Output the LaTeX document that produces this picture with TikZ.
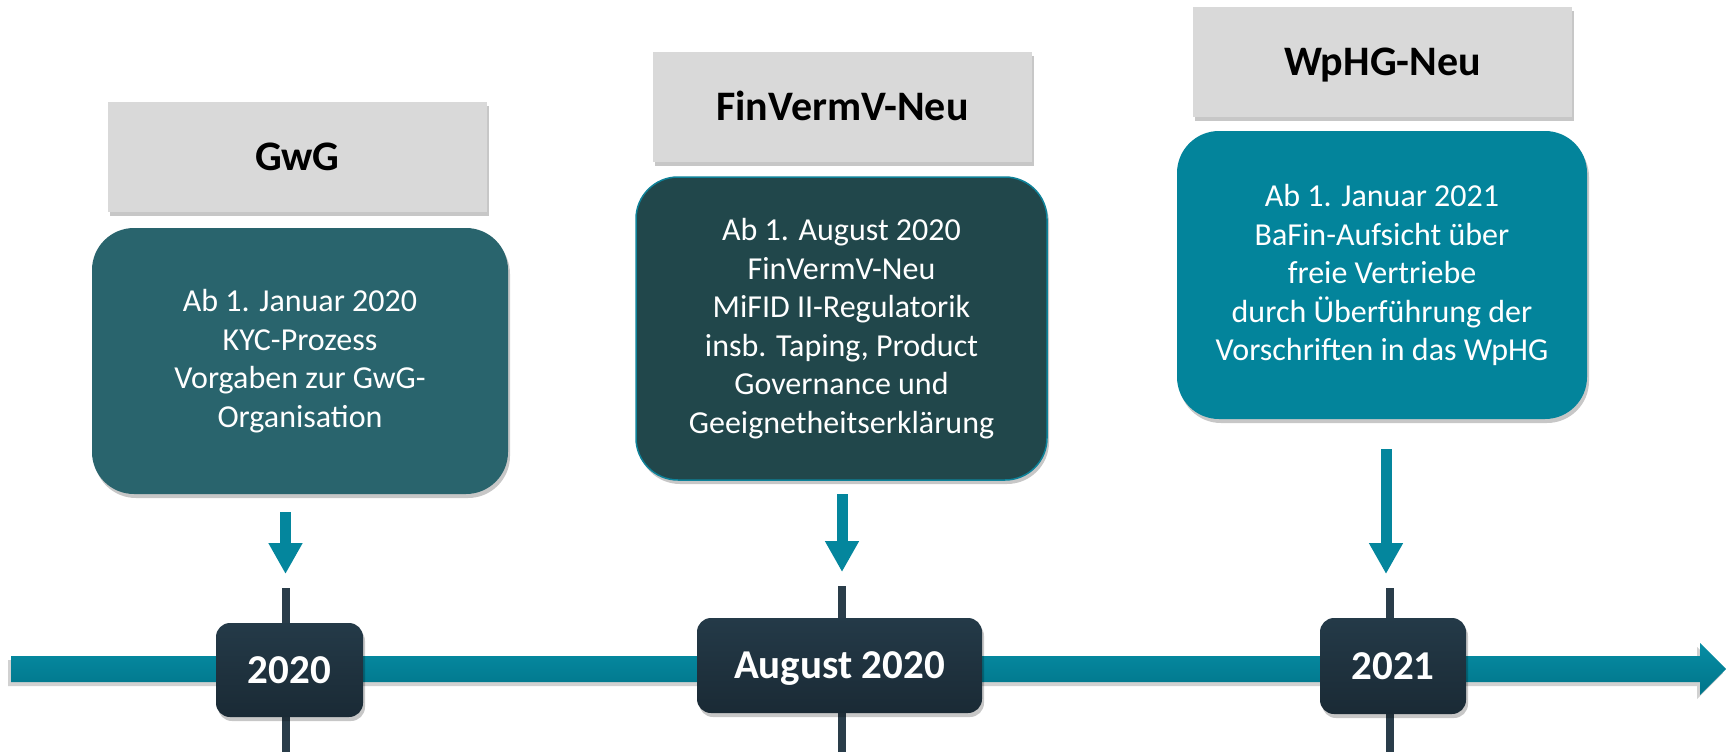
\documentclass[tikz,border=0pt]{standalone}
\usepackage{fontspec}
\setmainfont{Carlito}
\usetikzlibrary{arrows.meta,shadows}
\definecolor{headgrey}{HTML}{D9D9D9}
\definecolor{gwgc}{HTML}{29646D}
\definecolor{finc}{HTML}{21474B}
\definecolor{finborder}{HTML}{0E8299}
\definecolor{wphgc}{HTML}{03849B}
\definecolor{tealc}{HTML}{04869D}
\definecolor{tltop}{HTML}{078DA4}
\definecolor{tlbot}{HTML}{007489}
\definecolor{yeartop}{HTML}{243A48}
\definecolor{yearbot}{HTML}{1A2A35}
\definecolor{tickc}{HTML}{2A3D4A}
\begin{document}
\begin{tikzpicture}[x=1pt,y=-1pt,
  softshadow/.style={drop shadow={shadow xshift=2pt,shadow yshift=-4pt,opacity=0.22,fill=black}},
  headbox/.style={fill=headgrey, minimum width=379pt, minimum height=110pt, inner sep=0pt,
    text height=27pt, text depth=0pt,
    font=\bfseries\fontsize{42}{50}\selectfont, text=black, softshadow},
  bodybox/.style={rounded corners=42pt, align=center, text=white, inner sep=0pt,
    font=\fontsize{32}{38.5}\selectfont, softshadow},
  yearbox/.style={rounded corners=14pt, top color=yeartop, bottom color=yearbot, text=white,
    text height=26pt, text depth=0pt,
    font=\bfseries\fontsize{41}{48}\selectfont, inner sep=0pt, softshadow},
  tickline/.style={draw=tickc, line width=8pt},
  pointer/.style={draw=tealc, line width=11pt, -{Triangle[width=32pt,length=31pt]}}
]
\useasboundingbox (0,0) rectangle (1726,752);
\fill[white] (0,0) rectangle (1726,752);

% timeline shadow and arrow
\fill[black,opacity=0.18] (8,660) -- (1697,660) -- (1697,647) -- (1723,673) -- (1697,699) -- (1697,686) -- (8,686) -- cycle;
\shade[top color=tltop, bottom color=tlbot] (11,656) -- (1700,656) -- (1700,643) -- (1726,669) -- (1700,695) -- (1700,682) -- (11,682) -- cycle;

% ticks
\coordinate (t1top) at (285.5,588);
\coordinate (t1bot) at (285.5,752);
\coordinate (t2top) at (841.5,586);
\coordinate (t2bot) at (841.5,752);
\coordinate (t3top) at (1389.5,588);
\coordinate (t3bot) at (1389.5,752);
\draw[tickline] (t1top) -- (t1bot);
\draw[tickline] (t2top) -- (t2bot);
\draw[tickline] (t3top) -- (t3bot);

% year boxes
\node[yearbox, minimum width=147pt, minimum height=94pt] (y1) at (289.5,670) {2020};
\node[yearbox, minimum width=285pt, minimum height=95pt] (y2) at (839.5,665.5) {August 2020};
\node[yearbox, minimum width=146pt, minimum height=96pt] (y3) at (1393,666) {2021};

% headers
\node[headbox] (h1) at (297.5,157) {GwG};
\node[headbox] (h2) at (842.5,107) {FinVermV-Neu};
\node[headbox] (h3) at (1382.5,62) {WpHG-Neu};

% bodies
\node[bodybox, fill=gwgc, minimum width=416pt, minimum height=266pt] (b1) at (300,361)
  {Ab 1. Januar 2020\\KYC-Prozess\\Vorgaben zur GwG-\\Organisation};
\node[bodybox, fill=finc, draw=finborder, line width=1.5pt, minimum width=411pt, minimum height=303pt] (b2) at (841.5,328.5)
  {Ab 1. August 2020\\FinVermV-Neu\\MiFID II-Regulatorik\\insb. Taping, Product\\Governance und\\Geeignetheitserklärung};
\node[bodybox, fill=wphgc, minimum width=410pt, minimum height=288pt] (b3) at (1382,275)
  {Ab 1. Januar 2021\\BaFin-Aufsicht über\\freie Vertriebe\\durch Überführung der\\Vorschriften in das WpHG};

% pointers
\coordinate (a1s) at (285.5,512);
\coordinate (a1e) at (285.5,574);
\coordinate (a2s) at (842,494);
\coordinate (a2e) at (842,572);
\coordinate (a3s) at (1386,449);
\coordinate (a3e) at (1386,574);
\draw[pointer] (a1s) -- (a1e);
\draw[pointer] (a2s) -- (a2e);
\draw[pointer] (a3s) -- (a3e);
\end{tikzpicture}
\end{document}
